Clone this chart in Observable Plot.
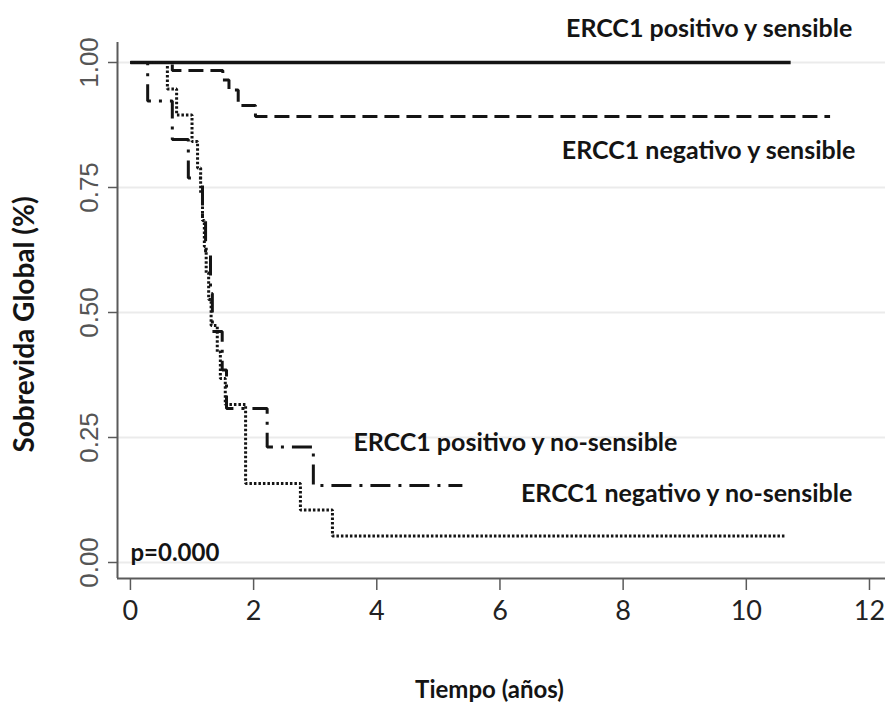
<!DOCTYPE html>
<html>
<head>
<meta charset="utf-8">
<script src="https://cdn.jsdelivr.net/npm/d3@7"></script>
<script src="https://cdn.jsdelivr.net/npm/@observablehq/plot@0.6"></script>
<style>
  html, body { margin: 0; padding: 0; background: #fff; }
</style>
</head>
<body>
<div id="chart"></div>
<script>
// Kaplan-Meier overall survival by ERCC1 status and sensitivity
const groups = [
  "ERCC1 positivo y sensible",
  "ERCC1 negativo y sensible",
  "ERCC1 positivo y no-sensible",
  "ERCC1 negativo y no-sensible"
];

// years of follow-up / survival proportion at each step
const posSensTime = [0, 10.72];
const posSensSurv = [1, 1];

const negSensTime = [0, 0.68, 1.5, 1.6, 1.75, 2.03, 11.36];
const negSensSurv = [1, 0.984, 0.965, 0.945, 0.914, 0.892, 0.892];

const posNoSensTime = [0, 0.28, 0.68, 0.94, 1.17, 1.22, 1.3, 1.33, 1.49, 1.56, 2.22, 2.97, 5.39];
const posNoSensSurv = [1, 0.923, 0.846, 0.769, 0.692, 0.615, 0.538, 0.462, 0.385, 0.308, 0.231, 0.154, 0.154];

const negNoSensTime = [0, 0.6, 0.75, 1.0, 1.09, 1.14, 1.17, 1.2, 1.23, 1.27, 1.31, 1.41, 1.46, 1.54, 1.87, 2.76, 3.28, 10.63];
const negNoSensSurv = [1, 0.947, 0.895, 0.842, 0.789, 0.737, 0.684, 0.632, 0.579, 0.526, 0.474, 0.421, 0.368, 0.316, 0.158, 0.105, 0.053, 0.053];

const xTicks = [0, 2, 4, 6, 8, 10, 12];
const yTicks = [0, 0.25, 0.5, 0.75, 1];
const yTickLabels = ["0.00", "0.25", "0.50", "0.75", "1.00"];
const pValueText = "p=0.000";
const xTitle = "Tiempo (años)";
const yTitle = "Sobrevida Global (%)";

const toRows = (group, times, surv) => times.map((t, i) => ({group, t, s: surv[i]}));
const curves = [
  toRows(groups[0], posSensTime, posSensSurv),
  toRows(groups[1], negSensTime, negSensSurv),
  toRows(groups[2], posNoSensTime, posNoSensSurv),
  toRows(groups[3], negNoSensTime, negNoSensSurv)
];

const xDomain = [-0.21, 12.26];
const yDomain = [-0.032, 1.04];
const ink = "#141414";
const axisInk = "#5a5a5a";
const labelFont = "Lato, 'Open Sans', sans-serif";

const curveStyles = [
  {strokeWidth: 3.5, strokeDasharray: null},
  {strokeWidth: 3, strokeDasharray: "15 7"},
  {strokeWidth: 3, strokeDasharray: "20 8 3 8"},
  {strokeWidth: 3, strokeDasharray: "2.5 2"}
];

// curve labels placed in data coordinates
const curveLabels = [
  {text: groups[0], t: 11.72, s: 1.068, anchor: "end"},
  {text: groups[1], t: 11.77, s: 0.824, anchor: "end"},
  {text: groups[2], t: 3.62, s: 0.24, anchor: "start"},
  {text: groups[3], t: 11.72, s: 0.138, anchor: "end"}
];

const chart = Plot.plot({
  width: 887,
  height: 715,
  marginLeft: 117,
  marginRight: 2,
  marginTop: 42,
  marginBottom: 137,
  style: {fontFamily: labelFont, background: "#fff", overflow: "visible"},
  x: {domain: xDomain},
  y: {domain: yDomain},
  marks: [
    // horizontal grid
    Plot.ruleY(yTicks, {stroke: "#ebebeb", strokeWidth: 2}),
    // axis lines
    Plot.ruleX([xDomain[0]], {stroke: axisInk, strokeWidth: 2}),
    Plot.ruleY([yDomain[0]], {stroke: axisInk, strokeWidth: 2}),
    // tick marks
    Plot.axisX({ticks: xTicks, tickSize: 12, tickFormat: () => "", stroke: axisInk, strokeWidth: 1.5, label: null}),
    Plot.axisY({ticks: yTicks, tickSize: 9, tickFormat: () => "", stroke: axisInk, strokeWidth: 1.5, label: null}),
    // tick labels
    Plot.text(xTicks, {x: d => d, frameAnchor: "bottom", dy: 33, text: d => String(d),
      textAnchor: "middle", lineAnchor: "middle",
      fontSize: 27, fill: "#222", fontFamily: "'Liberation Sans Narrow', Lato, sans-serif"}),
    Plot.text(yTicks, {y: d => d, frameAnchor: "left", dx: -28, rotate: -90,
      textAnchor: "middle", lineAnchor: "middle",
      text: (d, i) => yTickLabels[i], fontSize: 26, fill: "#555",
      fontFamily: "'Liberation Sans', Arial, sans-serif"}),
    // axis titles
    Plot.text([xTitle], {frameAnchor: "bottom", dy: 112, dx: -12, text: d => d,
      textAnchor: "middle", lineAnchor: "middle",
      fontSize: 24, fontWeight: "bold", fill: ink}),
    Plot.text([yTitle], {frameAnchor: "left", dx: -92, dy: 14, rotate: -90, text: d => d,
      textAnchor: "middle", lineAnchor: "middle",
      fontSize: 28, fontWeight: "bold", fill: ink}),
    // survival curves
    ...curves.map((rows, i) => Plot.line(rows, {
      x: "t", y: "s", curve: "step-after", stroke: ink,
      strokeWidth: curveStyles[i].strokeWidth,
      strokeDasharray: curveStyles[i].strokeDasharray,
      strokeLinecap: "butt", strokeLinejoin: "miter"
    })),
    // curve labels
    ...curveLabels.map(l => Plot.text([l], {x: "t", y: "s", text: "text", textAnchor: l.anchor,
      fontSize: 25, fontWeight: "bold", fill: ink})),
    Plot.text([pValueText], {x: 0, y: 0.018, text: d => d, textAnchor: "start",
      fontSize: 24, fontWeight: "bold", fill: ink})
  ]
});

document.getElementById("chart").appendChild(chart);
</script>
</body>
</html>
